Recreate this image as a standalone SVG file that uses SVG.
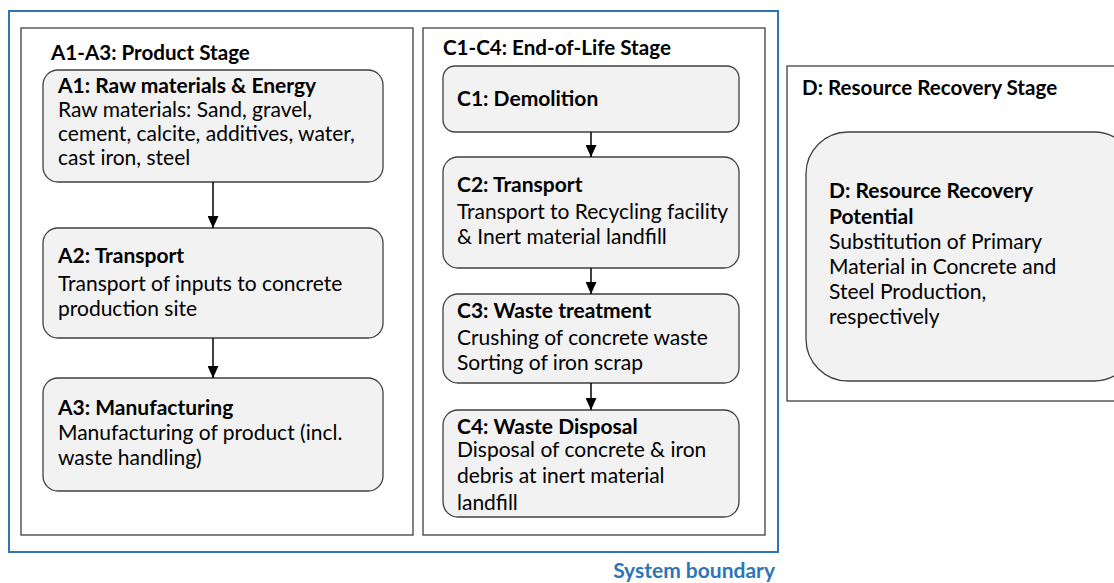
<svg xmlns="http://www.w3.org/2000/svg" width="1114" height="583" viewBox="0 0 1114 583">
<defs>
<marker id="arr" markerWidth="12" markerHeight="11" refX="12" refY="5.5" orient="auto" markerUnits="userSpaceOnUse">
<path d="M0,0 L12,5.5 L0,11 Z" fill="#000"/>
</marker>
<style>
.stage{fill:#fff;stroke:#404040;stroke-width:1.3}
.node{fill:#f2f2f2;stroke:#404040;stroke-width:1.3}
text{font-family:Lato,"Liberation Sans",sans-serif;font-size:21px;fill:#000}
.b{font-weight:bold}
.t{font-weight:bold;font-size:20.6px}
.conn{stroke:#000;stroke-width:1.5;fill:none;marker-end:url(#arr)}
</style>
</defs>
<rect width="1114" height="583" fill="#fff"/>
<g id="system-boundary">
<rect x="9" y="11" width="769" height="541" fill="none" stroke="#2E75B6" stroke-width="2"/>
<text x="775" y="578" text-anchor="end" class="b" style="fill:#2E75B6">System boundary</text>
</g>
<g id="product-stage">
<rect class="stage" x="21" y="28" width="392" height="507"/>
<text x="51" y="60" class="t">A1-A3: Product Stage</text>
</g>
<g id="eol-stage">
<rect class="stage" x="423" y="28" width="342" height="507"/>
<text x="443" y="55" class="t">C1-C4: End-of-Life Stage</text>
</g>
<g id="d-stage">
<rect class="stage" x="787" y="66" width="340" height="335"/>
<text x="802" y="95" class="t">D: Resource Recovery Stage</text>
</g>
<g id="A1">
<rect class="node" x="43" y="70" width="340" height="112" rx="15"/>
<text x="58" y="93" class="b">A1: Raw materials &amp; Energy</text>
<text x="58" y="117">Raw materials: Sand, gravel,</text>
<text x="58" y="141">cement, calcite, additives, water,</text>
<text x="58" y="165">cast iron, steel</text>
</g>
<g id="A2">
<rect class="node" x="43" y="228" width="340" height="110" rx="15"/>
<text x="58" y="263" class="b">A2: Transport</text>
<text x="58" y="291">Transport of inputs to concrete</text>
<text x="58" y="316">production site</text>
</g>
<g id="A3">
<rect class="node" x="43" y="378" width="340" height="113" rx="15"/>
<text x="58" y="415" class="b">A3: Manufacturing</text>
<text x="58" y="440">Manufacturing of product (incl.</text>
<text x="58" y="465">waste handling)</text>
</g>
<g id="C1">
<rect class="node" x="443" y="66" width="296" height="66" rx="12"/>
<text x="457" y="106" class="b">C1: Demolition</text>
</g>
<g id="C2">
<rect class="node" x="443" y="157" width="296" height="111" rx="15"/>
<text x="457" y="192" class="b">C2: Transport</text>
<text x="457" y="219">Transport to Recycling facility</text>
<text x="457" y="244">&amp; Inert material landfill</text>
</g>
<g id="C3">
<rect class="node" x="443" y="294" width="296" height="89" rx="15"/>
<text x="457" y="318" class="b">C3: Waste treatment</text>
<text x="457" y="345">Crushing of concrete waste</text>
<text x="457" y="370">Sorting of iron scrap</text>
</g>
<g id="C4">
<rect class="node" x="443" y="410" width="296" height="107" rx="15"/>
<text x="457" y="434" class="b">C4: Waste Disposal</text>
<text x="457" y="457">Disposal of concrete &amp; iron</text>
<text x="457" y="483">debris at inert material</text>
<text x="457" y="510">landfill</text>
</g>
<g id="D">
<rect class="node" x="806" y="132" width="330" height="249" rx="42"/>
<text x="829" y="198" class="b">D: Resource Recovery</text>
<text x="829" y="224" class="b">Potential</text>
<text x="829" y="249">Substitution of Primary</text>
<text x="829" y="274">Material in Concrete and</text>
<text x="829" y="299">Steel Production,</text>
<text x="829" y="324">respectively</text>
</g>
<g id="connectors">
<line class="conn" x1="213" y1="182" x2="213" y2="228"/>
<line class="conn" x1="213" y1="338" x2="213" y2="378"/>
<line class="conn" x1="591" y1="132" x2="591" y2="157"/>
<line class="conn" x1="591" y1="268" x2="591" y2="294"/>
<line class="conn" x1="591" y1="383" x2="591" y2="410"/>
</g>
</svg>
